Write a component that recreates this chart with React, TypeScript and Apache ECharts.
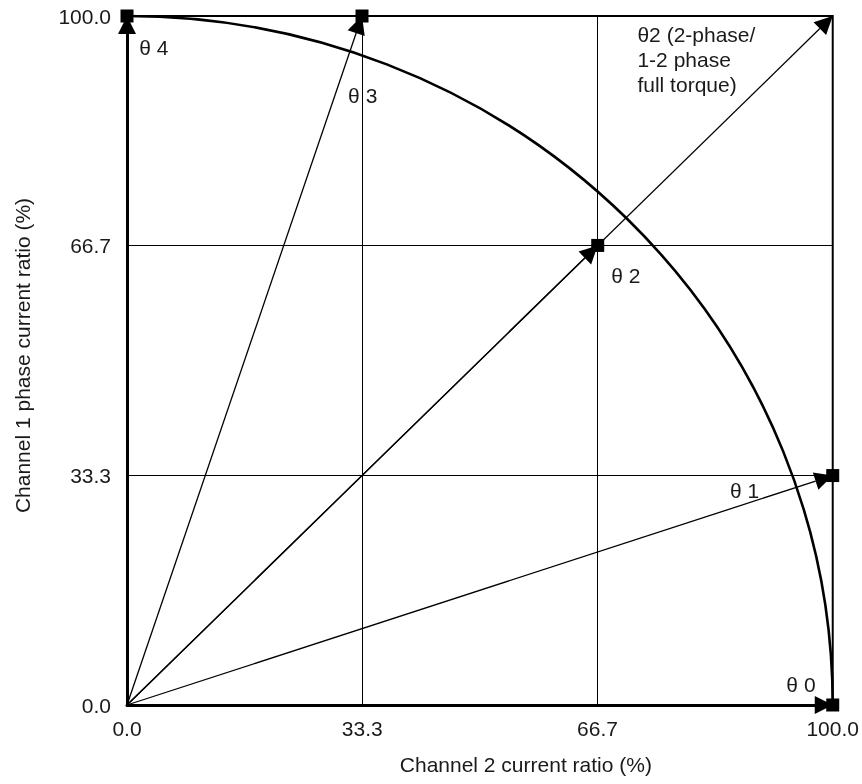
import React, { useEffect, useRef } from "react";
import * as echarts from "echarts";

const AXIS_MIN = 0;
const AXIS_MAX = 100;
const TICK_LABELS = ["0.0", "33.3", "66.7", "100.0"];
const X_NAME = "Channel 2 current ratio (%)";
const Y_NAME = "Channel 1 phase current ratio (%)";
const ARC_RADIUS = 100;

// Current vectors (arrow end points), drawn from the origin
const ARROW_X = [100, 100, 66.7, 100, 33.3, 0];
const ARROW_Y = [0, 33.3, 66.7, 100, 100, 100];

// Square markers at the step points
const MARKER_X = [100, 100, 66.7, 33.3, 0];
const MARKER_Y = [0, 33.3, 66.7, 100, 100];

// Step annotations (data coordinates)
const LABEL_TEXT = ["θ 0", "θ 1", "θ 2", "θ 3", "θ 4"];
const LABEL_X = [95.5, 87.5, 70.7, 33.4, 3.8];
const LABEL_Y = [3.0, 31.2, 62.4, 88.4, 95.4];

const NOTE_TEXT = "θ2 (2-phase/\n1-2 phase\nfull torque)";
const NOTE_X = 72.4;
const NOTE_Y = 99.0;

const FONT = "'Liberation Sans', Arial, sans-serif";
const TEXT_COLOR = "#1a1a1a";
const FS = 21;

export default function App() {
  const ref = useRef<HTMLDivElement>(null);

  useEffect(() => {
    if (!ref.current) return;
    const chart = echarts.init(ref.current, undefined, { renderer: "svg" });

    const arrowData = ARROW_X.map((x, i) => [x, ARROW_Y[i]]);
    const markerData = MARKER_X.map((x, i) => [x, MARKER_Y[i]]);
    const labelData = LABEL_TEXT.map((t, i) => ({ name: t, value: [LABEL_X[i], LABEL_Y[i]] }));

    const axisCommon = {
      type: "value" as const,
      min: AXIS_MIN,
      max: AXIS_MAX,
      interval: (AXIS_MAX - AXIS_MIN) / 3,
      nameLocation: "middle" as const,
      axisTick: { show: false },
      axisLine: { show: true, lineStyle: { color: "#000", width: 3 } },
      splitLine: { show: true, lineStyle: { color: "#000", width: 1 } },
      axisLabel: {
        fontSize: FS,
        color: TEXT_COLOR,
        fontFamily: FONT,
        formatter: (v: number, i: number) => TICK_LABELS[i] ?? v.toFixed(1),
      },
    };

    chart.setOption({
      animation: false,
      grid: {
        left: 127,
        right: 29,
        top: 16,
        bottom: 79,
        show: true,
        borderColor: "#000",
        borderWidth: 2,
        backgroundColor: "transparent",
      },
      xAxis: {
        ...axisCommon,
        name: X_NAME,
        nameGap: 49,
        nameTextStyle: {
          fontSize: FS,
          color: TEXT_COLOR,
          fontFamily: FONT,
          padding: [0, 0, 0, 92],
        },
        axisLabel: { ...axisCommon.axisLabel, margin: 13 },
      },
      yAxis: {
        ...axisCommon,
        name: Y_NAME,
        nameGap: 94,
        nameTextStyle: {
          fontSize: FS,
          color: TEXT_COLOR,
          fontFamily: FONT,
          padding: [0, 0, 0, 10],
        },
        axisLabel: { ...axisCommon.axisLabel, margin: 16 },
      },
      series: [
        {
          type: "custom",
          name: "arc",
          clip: false,
          silent: true,
          data: [[0, 0]],
          renderItem: (params: any, api: any) => {
            const c = api.coord([0, 0]);
            const s = api.coord([0, ARC_RADIUS]);
            const e = api.coord([ARC_RADIUS, 0]);
            const rx = e[0] - c[0];
            const ry = c[1] - s[1];
            return {
              type: "path",
              shape: {
                pathData: `M ${s[0]} ${s[1]} A ${rx} ${ry} 0 0 1 ${e[0]} ${e[1]}`,
              },
              style: { fill: "none", stroke: "#000", lineWidth: 2.6 },
            };
          },
          z: 3,
        },
        {
          type: "custom",
          name: "vectors",
          clip: false,
          silent: true,
          data: arrowData,
          renderItem: (params: any, api: any) => {
            const p0 = api.coord([0, 0]);
            const p1 = api.coord([api.value(0), api.value(1)]);
            const dx = p1[0] - p0[0];
            const dy = p1[1] - p0[1];
            const len = Math.hypot(dx, dy) || 1;
            const ux = dx / len;
            const uy = dy / len;
            const L = 18;
            const W = 9;
            const bx = p1[0] - ux * L;
            const by = p1[1] - uy * L;
            const nx = -uy;
            const ny = ux;
            return {
              type: "group",
              children: [
                {
                  type: "line",
                  shape: { x1: p0[0], y1: p0[1], x2: bx, y2: by },
                  style: { stroke: "#000", lineWidth: 1.3 },
                },
                {
                  type: "polygon",
                  shape: {
                    points: [
                      [p1[0], p1[1]],
                      [bx + nx * W, by + ny * W],
                      [bx - nx * W, by - ny * W],
                    ],
                  },
                  style: { fill: "#000" },
                },
              ],
            };
          },
          z: 4,
        },
        {
          type: "scatter",
          name: "steps",
          silent: true,
          symbol: "rect",
          symbolSize: 13,
          itemStyle: { color: "#000", opacity: 1 },
          data: markerData,
          z: 5,
        },
        {
          type: "scatter",
          name: "labels",
          silent: true,
          symbolSize: 1,
          itemStyle: { color: "transparent", opacity: 1 },
          data: labelData,
          label: {
            show: true,
            position: "inside",
            formatter: "{b}",
            fontSize: FS,
            color: TEXT_COLOR,
            opacity: 1,
            fontFamily: FONT,
          },
          z: 6,
        },
        {
          type: "scatter",
          name: "note",
          silent: true,
          symbolSize: 1,
          itemStyle: { color: "transparent", opacity: 1 },
          data: [{ name: NOTE_TEXT, value: [NOTE_X, NOTE_Y] }],
          label: {
            show: true,
            position: [0, 0],
            align: "left",
            verticalAlign: "top",
            formatter: "{b}",
            fontSize: FS,
            lineHeight: 25,
            color: TEXT_COLOR,
            opacity: 1,
            fontFamily: FONT,
          },
          z: 6,
        },
      ],
    });

    return () => chart.dispose();
  }, []);

  return (
    <div
      ref={ref}
      style={{ position: "fixed", left: 0, top: 0, width: 862, height: 784 }}
    />
  );
}
